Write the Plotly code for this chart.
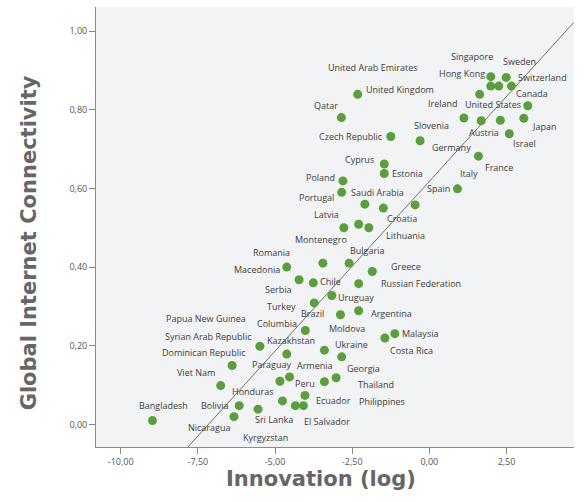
import plotly.graph_objects as go

# ---- data -------------------------------------------------------------
countries = [
    "Singapore", "Sweden", "Hong Kong", "Canada", "Switzerland", "United States", "",
    "Ireland", "Austria", "", "Japan", "Israel", "France",
    "United Kingdom", "Qatar", "Czech Republic", "Slovenia", "Cyprus", "Estonia",
    "Poland", "Portugal", "Saudi Arabia", "Croatia", "", "Spain",
    "Latvia", "Montenegro", "Lithuania", "Romania", "Bulgaria", "Greece",
    "Macedonia", "Serbia", "Chile", "Russian Federation", "Uruguay", "Turkey",
    "Brazil", "Argentina", "Columbia", "Malaysia", "Costa Rica", "Kazakhstan",
    "Paraguay", "Moldova", "Ukraine", "Dominican Republic", "Viet Nam", "Honduras",
    "Peru", "Armenia", "Georgia", "Ecuador", "Sri Lanka", "El Salvador",
    "Philippines", "Bangladesh", "Bolivia", "Kyrgyzstan", "Nicaragua",
]
innovation = [
    1.99, 2.49, 1.99, 2.25, 2.66, 1.63, 3.19,
    1.12, 1.68, 2.30, 3.06, 2.59, 1.59,
    -2.32, -2.85, -1.25, -0.30, -1.46, -1.46,
    -2.80, -2.84, -2.09, -1.49, -0.46, 0.91,
    -2.77, -2.29, -1.96, -3.45, -2.60, -1.85,
    -4.62, -4.22, -3.76, -2.29, -3.16, -3.73,
    -2.88, -2.29, -4.02, -1.12, -1.44, -5.49,
    -4.62, -3.40, -2.84, -6.39, -6.76, -4.84,
    -4.53, -3.40, -3.02, -4.03, -4.76, -4.34,
    -4.08, -8.97, -6.16, -5.55, -6.33,
]
connectivity = [
    0.884, 0.882, 0.860, 0.860, 0.860, 0.839, 0.810,
    0.779, 0.772, 0.773, 0.778, 0.739, 0.682,
    0.839, 0.780, 0.732, 0.721, 0.662, 0.638,
    0.619, 0.590, 0.560, 0.550, 0.558, 0.599,
    0.500, 0.509, 0.500, 0.410, 0.410, 0.389,
    0.400, 0.368, 0.360, 0.358, 0.328, 0.309,
    0.279, 0.289, 0.239, 0.231, 0.220, 0.199,
    0.179, 0.189, 0.172, 0.150, 0.099, 0.110,
    0.121, 0.109, 0.119, 0.074, 0.060, 0.048,
    0.048, 0.010, 0.048, 0.039, 0.020,
]

# trend line
trend_slope = 0.0863
trend_intercept = 0.618

x_tick_vals = [-10.0, -7.5, -5.0, -2.5, 0.0, 2.5]
x_tick_text = ["-10,00", "-7,50", "-5,00", "-2,50", "0,00", "2,50"]
y_tick_vals = [0.0, 0.2, 0.4, 0.6, 0.8, 1.0]
y_tick_text = ["0,00", "0,20", "0,40", "0,60", "0,80", "1,00"]

x_range = [-10.80, 4.686]
y_range = [-0.0571, 1.061]

# ---- label placement (pixel offsets from the anchor point) -------------
label_offsets = {
    "Singapore": (-19, -20), "Sweden": (13, -16), "Hong Kong": (-29, -13),
    "Canada": (33, 7), "Switzerland": (31, -8.5), "United States": (13, 10),
    "Ireland": (-21, -14), "Austria": (3, 12), "Japan": (20, 8), "Israel": (15, 10),
    "France": (21, 11), "United Kingdom": (42, -5), "Qatar": (-15, -12),
    "Czech Republic": (-39.5, 0.5), "Slovenia": (11, -15), "Cyprus": (-25, -5),
    "Estonia": (23, 0), "Poland": (-22, -3), "Portugal": (-25, 5),
    "Saudi Arabia": (13, -12), "Croatia": (19, 10), "Spain": (-19, 0),
    "Latvia": (-17, -13), "Montenegro": (-38, 15), "Lithuania": (37, 8),
    "Romania": (-51, -11), "Bulgaria": (18, -13), "Greece": (34, -5),
    "Macedonia": (-30, 2), "Serbia": (-21, 10), "Chile": (17, -1),
    "Russian Federation": (62, 0), "Uruguay": (24, 2), "Turkey": (-33, 4),
    "Brazil": (-28, -1), "Argentina": (33, 3), "Columbia": (-28.5, -7),
    "Malaysia": (25, 0), "Costa Rica": (27, 13), "Kazakhstan": (31.5, -6),
    "Paraguay": (-14.5, 10), "Moldova": (23, -22), "Ukraine": (10, -12),
    "Dominican Republic": (-28, -13), "Viet Nam": (-25, -13), "Honduras": (-26.5, 10.5),
    "Peru": (15, 7), "Armenia": (-9, -16), "Georgia": (27, -9), "Ecuador": (28.5, 5),
    "Sri Lanka": (-8, 19), "El Salvador": (32, 16), "Philippines": (79, -4),
    "Bangladesh": (11, -15), "Bolivia": (-24, 0), "Kyrgyzstan": (7, 28),
    "Nicaragua": (-25, 11),
}
extra_labels = [
    ("Germany", "France", -27, -9),
    ("Italy", "Spain", 12, -15),
    ("United Arab Emirates", "United Kingdom", 15, -27),
    ("Thailand", "Georgia", 40, 7),
    ("Syrian Arab Republic", "Kazakhstan", -51.5, -10),
    ("Papua New Guinea", "Kazakhstan", -54, -28),
]

LABEL_FONT = dict(family="Open Sans, sans-serif", size=9, color="#3c3c3c")
TITLE_FONT = dict(family="DejaVu Sans, sans-serif", size=21, color="#666666", weight="bold")

fig = go.Figure()

fig.add_trace(go.Scatter(
    x=x_range,
    y=[trend_intercept + trend_slope * v for v in x_range],
    mode="lines", line=dict(color="#4a4a4a", width=0.8),
    hoverinfo="skip", showlegend=False,
))
fig.add_trace(go.Scatter(
    x=innovation, y=connectivity, mode="markers",
    marker=dict(color="#5b9e3e", size=9, line=dict(width=0)),
    text=countries, showlegend=False,
))

annotations = []
idx = {name: i for i, name in enumerate(countries) if name}
for name, i in idx.items():
    dx, dy = label_offsets[name]
    annotations.append(dict(
        x=innovation[i], y=connectivity[i], xref="x", yref="y",
        text=name, showarrow=False, xshift=dx, yshift=-dy,
        xanchor="center", yanchor="middle", font=LABEL_FONT,
    ))
for text, anchor, dx, dy in extra_labels:
    i = idx[anchor]
    annotations.append(dict(
        x=innovation[i], y=connectivity[i], xref="x", yref="y",
        text=text, showarrow=False, xshift=dx, yshift=-dy,
        xanchor="center", yanchor="middle", font=LABEL_FONT,
    ))

annotations.append(dict(
    x=0.470, y=-0.0738, xref="paper", yref="paper", text="Innovation (log)",
    showarrow=False, xanchor="center", yanchor="middle", font=TITLE_FONT,
))
annotations.append(dict(
    x=-0.140, y=0.463, xref="paper", yref="paper", text="Global Internet Connectivity",
    showarrow=False, xanchor="center", yanchor="middle", textangle=-90, font=TITLE_FONT,
))

fig.update_layout(
    width=584, height=502,
    margin=dict(l=96, r=10, t=7, b=55),
    paper_bgcolor="white", plot_bgcolor="#f2f3f5",
    annotations=annotations,
    showlegend=False,
)
fig.update_xaxes(
    range=x_range, tickvals=x_tick_vals, ticktext=x_tick_text,
    showgrid=False, zeroline=False, showline=True, linecolor="#8a8a8a", linewidth=1,
    ticks="outside", ticklen=6, tickcolor="#8a8a8a",
    tickfont=dict(family="Open Sans, sans-serif", size=9, color="#555555"),
)
fig.update_yaxes(
    range=y_range, tickvals=y_tick_vals, ticktext=y_tick_text,
    showgrid=False, zeroline=False, showline=True, linecolor="#8a8a8a", linewidth=1,
    ticks="outside", ticklen=6, tickcolor="#8a8a8a",
    tickfont=dict(family="Open Sans, sans-serif", size=9, color="#555555"),
)

fig.write_html(
    "out.html",
    config={"displayModeBar": False},
    post_script="document.body.style.margin='0';document.body.style.overflow='hidden';",
)
